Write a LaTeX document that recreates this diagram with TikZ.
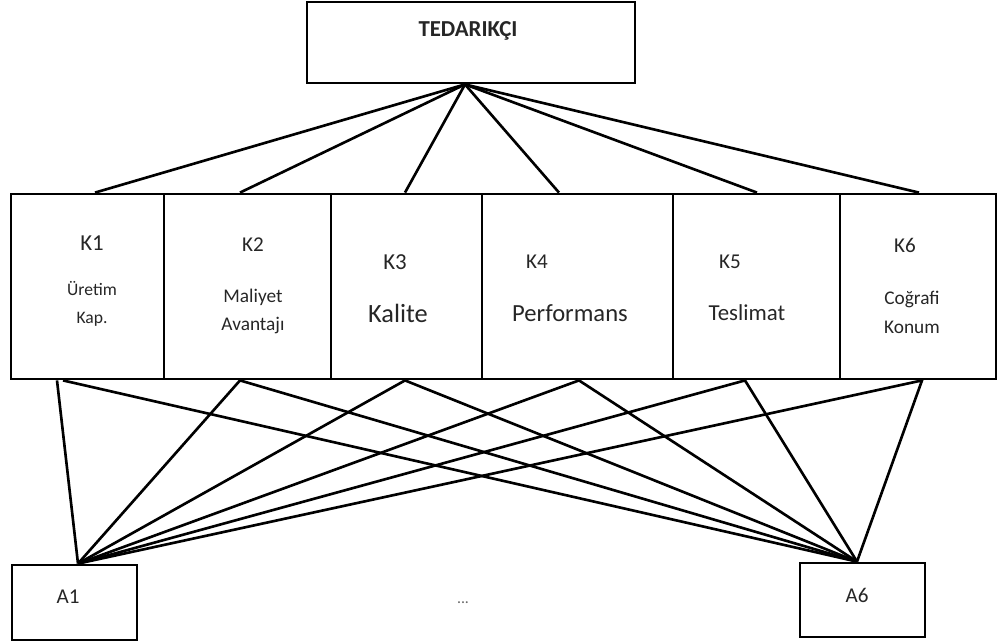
\documentclass[tikz,border=0pt]{standalone}
\usepackage{fontspec}
\setmainfont{Carlito}
\tikzset{
    kutu/.style={draw, line width=1.6pt, inner sep=0pt},
    baglanti/.style={line width=1.5pt},
    yazi/.style={font=\fontsize{#1}{#1}\selectfont, inner sep=0pt, align=center, text=black!85},
    yazi/.default=12
}
\begin{document}
\begin{tikzpicture}
    \useasboundingbox (0,0) rectangle (19.94,-12.86);
    % Tedarikci kutusu
    \node[kutu, minimum width=6.56cm, minimum height=1.62cm] (ted) at (9.42,-0.85) {};
    \node[yazi=13, font=\fontsize{13}{13}\selectfont\bfseries] (ted_txt) at (9.36,-0.62) {TEDARIKÇI};

    % Kriter kutulari
    \node[kutu, minimum width=3.06cm, minimum height=3.70cm] (k1) at (1.75,-5.73) {};
    \node[kutu, minimum width=3.34cm, minimum height=3.70cm] (k2) at (4.95,-5.73) {};
    \node[kutu, minimum width=3.02cm, minimum height=3.70cm] (k3) at (8.13,-5.73) {};
    \node[kutu, minimum width=3.82cm, minimum height=3.70cm] (k4) at (11.55,-5.73) {};
    \node[kutu, minimum width=3.34cm, minimum height=3.70cm] (k5) at (15.13,-5.73) {};
    \node[kutu, minimum width=3.12cm, minimum height=3.70cm] (k6) at (18.36,-5.73) {};

    % Kriter yazilari
    \node[yazi=13] (k1_no) at (1.84,-4.86) {K1};
    \node[yazi=10] (k1_ad) at (1.84,-6.08) {Üretim\\[6pt]Kap.};
    \node[yazi=12] (k2_no) at (5.06,-4.90) {K2};
    \node[yazi=11] (k2_ad) at (5.06,-6.23) {Maliyet\\[4.5pt]Avantajı};
    \node[yazi=13] (k3_no) at (7.90,-5.24) {K3};
    \node[yazi=15] (k3_ad) at (7.96,-6.26) {Kalite};
    \node[yazi=12] (k4_no) at (10.74,-5.24) {K4};
    \node[yazi=14] (k4_ad) at (11.40,-6.26) {Performans};
    \node[yazi=12] (k5_no) at (14.60,-5.24) {K5};
    \node[yazi=13] (k5_ad) at (14.94,-6.26) {Teslimat};
    \node[yazi=12] (k6_no) at (18.10,-4.90) {K6};
    \node[yazi=11] (k6_ad) at (18.24,-6.25) {Coğrafi\\[5.5pt]Konum};

    % Alternatifler
    \node[kutu, minimum width=2.5cm, minimum height=1.5cm] (a1) at (1.49,-12.05) {};
    \node[kutu, minimum width=2.5cm, minimum height=1.48cm] (a6) at (17.25,-12.0) {};
    \node[yazi=12] (a1_txt) at (1.36,-11.94) {A1};
    \node[yazi=12] (a6_txt) at (17.14,-11.90) {A6};
    \node[yazi=9, text=black!60] (nokta) at (9.26,-12.06) {...};

    % Tedarikciden kriterlere
    \coordinate (tepe) at ([xshift=-0.12cm]ted.south);
    \draw[baglanti] (tepe) -- ([xshift=0.15cm]k1.north);
    \draw[baglanti] (tepe) -- ([xshift=-0.15cm]k2.north);
    \draw[baglanti] (tepe) -- ([xshift=-0.03cm]k3.north);
    \draw[baglanti] (tepe) -- ([xshift=-0.37cm]k4.north);
    \draw[baglanti] (tepe) -- ([xshift=0.01cm]k5.north);
    \draw[baglanti] (tepe) -- ([xshift=0.02cm]k6.north);

    % Kriterlerden alternatiflere
    \coordinate (a1_tepe) at ([xshift=0.07cm]a1.north);
    \coordinate (a6_tepe) at ([xshift=-0.11cm]a6.north);
    \draw[baglanti] ([xshift=-0.61cm]k1.south) -- (a1_tepe);
    \draw[baglanti] ([xshift=-0.49cm]k1.south) -- (a6_tepe);
    \foreach \k/\s in {k2/-0.15, k3/-0.03, k4/0.03, k5/-0.23, k6/0.08} {
        \draw[baglanti] (a1_tepe) -- ([xshift=\s cm]\k.south) -- (a6_tepe);
    }
\end{tikzpicture}
\end{document}
